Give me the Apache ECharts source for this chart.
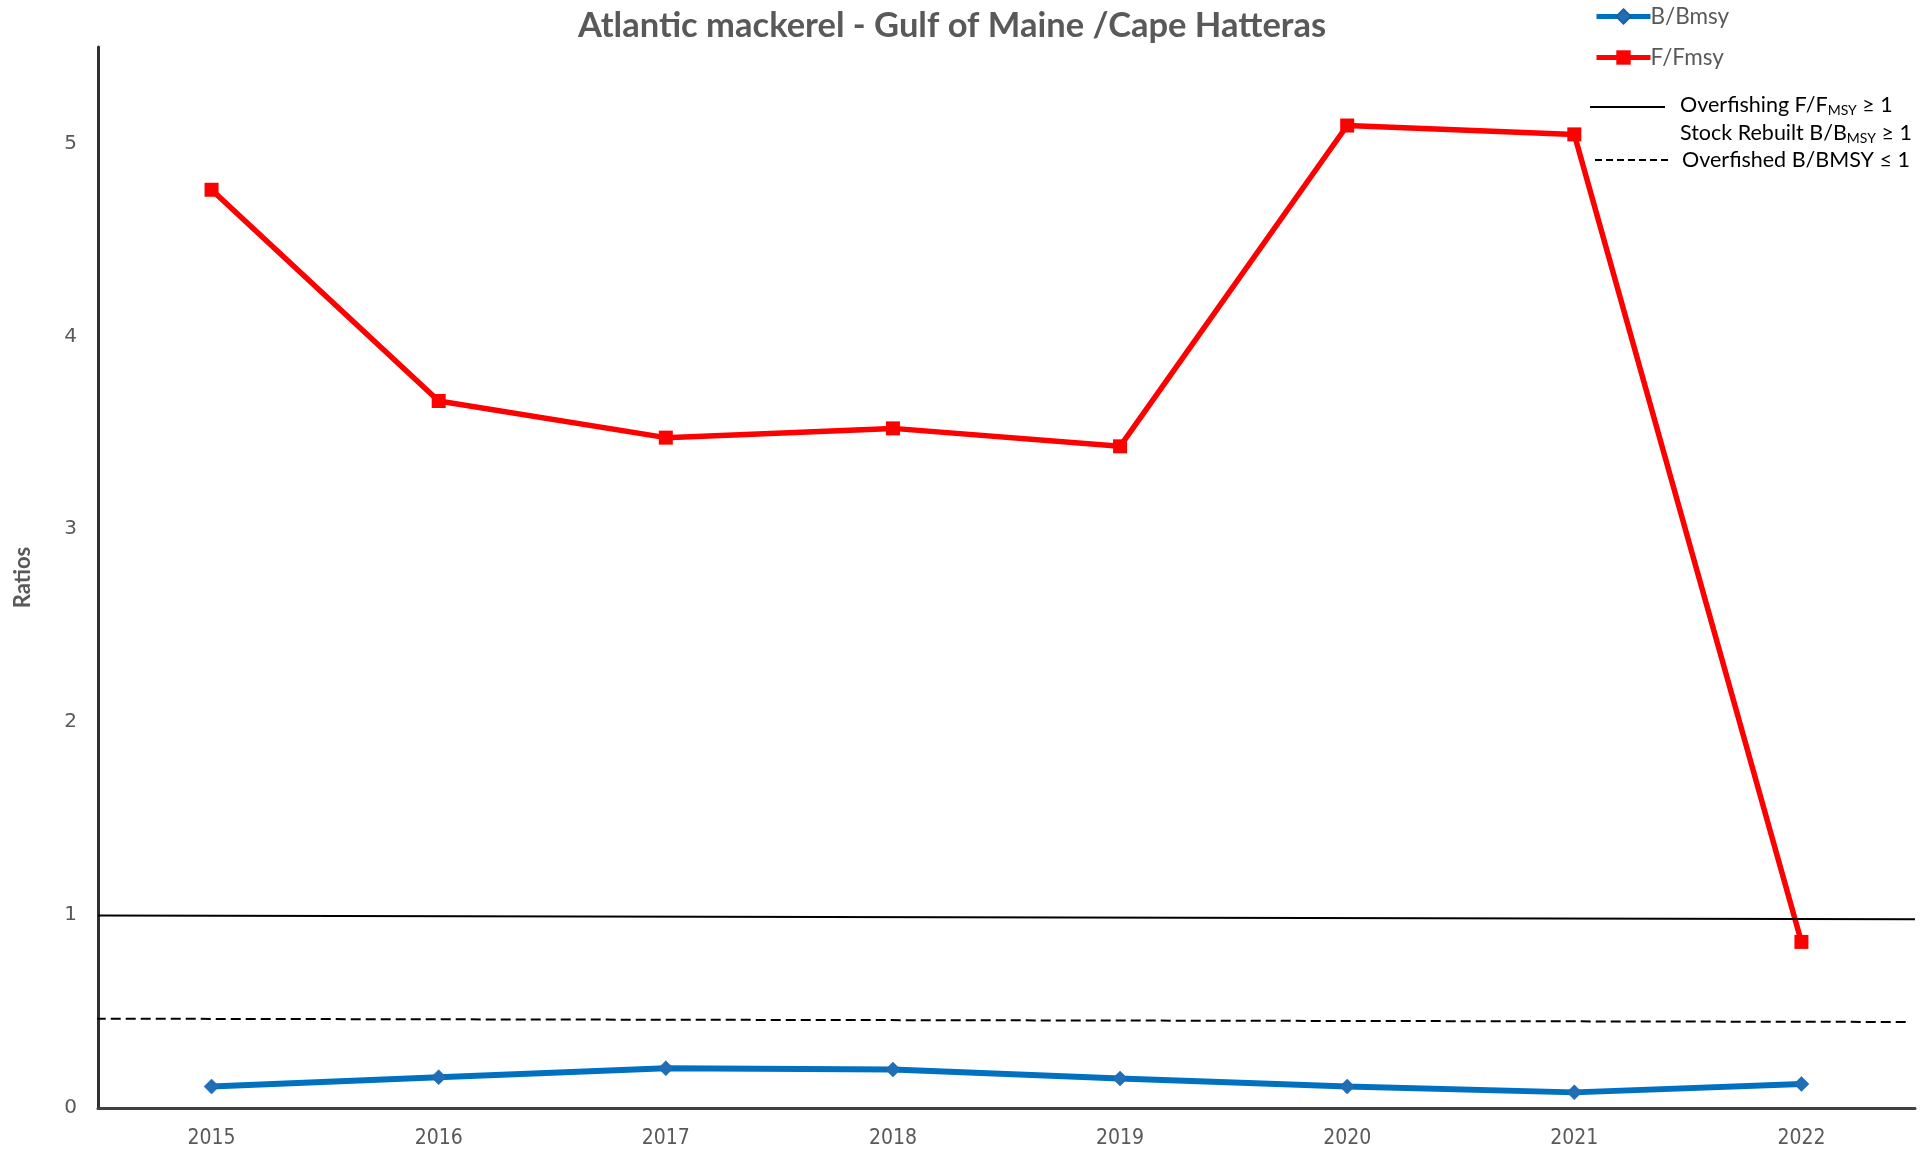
<!DOCTYPE html>
<html>
<head>
<meta charset="utf-8">
<script src="https://cdn.jsdelivr.net/npm/echarts@6/dist/echarts.min.js"></script>
<style>
html,body{margin:0;padding:0;background:#fff;}
#chart{width:1929px;height:1153px;}
</style>
</head>
<body>
<div id="chart"></div>
<script>
const years = ['2015','2016','2017','2018','2019','2020','2021','2022'];
const bBmsy = [0.111, 0.160, 0.206, 0.199, 0.153, 0.111, 0.081, 0.125];
const fFmsy = [4.760, 3.665, 3.475, 3.523, 3.430, 5.093, 5.047, 0.861];
const overfishingLine = [[-0.5, 0.998], [7.5, 0.979]];
const overfishedLine = [[-0.51, 0.463], [7.46, 0.446]];
const yTicks = [0, 1, 2, 3, 4, 5];

const chart = echarts.init(document.getElementById('chart'));
const FONT = 'Lato';
chart.setOption({
  animation: false,
  backgroundColor: '#ffffff',
  title: {
    text: 'Atlantic mackerel - Gulf of Maine /Cape Hatteras',
    left: 947, top: 3, textAlign: 'center',
    textStyle: {fontFamily: FONT, fontWeight: 'bold', fontSize: 34.5, color: '#595959'}
  },
  grid: {left: 98, right: 14, top: 47, bottom: 45, containLabel: false},
  legend: {
    data: [
      {name: 'B/Bmsy', lineStyle: {width: 5}},
      {name: 'F/Fmsy', lineStyle: {width: 5}}
    ],
    orient: 'vertical', left: 1589, top: 0,
    itemWidth: 54, itemHeight: 18, itemGap: 18,
    textStyle: {fontFamily: FONT, fontSize: 22.5, color: '#595959', padding: [0,0,0,-5]}
  },
  xAxis: [{
    type: 'category', data: years, boundaryGap: true,
    axisLine: {show: true, lineStyle: {color: '#404040', width: 3}},
    axisTick: {show: false},
    axisLabel: {fontFamily: 'DejaVu Sans Condensed', fontSize: 21, color: '#595959', margin: 20},
    splitLine: {show: false}
  }, {
    type: 'value', min: -0.5, max: 7.5, show: false
  }],
  yAxis: {
    type: 'value', min: 0, max: 5.5, interval: 1,
    name: 'Ratios', nameLocation: 'middle', nameGap: 64,
    nameTextStyle: {fontFamily: FONT, fontWeight: 'bold', fontSize: 22, color: '#595959'},
    axisLine: {show: true, onZero: false, lineStyle: {color: '#303030', width: 3}},
    axisTick: {show: false},
    splitLine: {show: false},
    axisLabel: {
      fontFamily: 'DejaVu Sans', fontSize: 20, color: '#595959', margin: 21,
      formatter: v => (yTicks.indexOf(v) >= 0 ? String(v) : '')
    }
  },
  series: [
    {
      name: 'B/Bmsy', type: 'line', data: bBmsy, xAxisIndex: 0,
      symbol: 'diamond', symbolSize: 15,
      lineStyle: {color: '#0070C0', width: 6},
      itemStyle: {color: '#1F6FB8', borderColor: '#1F5F9F', borderWidth: 0.5},
      z: 3
    },
    {
      name: 'F/Fmsy', type: 'line', data: fFmsy, xAxisIndex: 0,
      symbol: 'rect', symbolSize: 14,
      lineStyle: {color: '#FF0000', width: 5.5},
      itemStyle: {color: '#FF0000'},
      z: 3
    },
    {
      name: 'Overfishing', type: 'line', xAxisIndex: 1, data: overfishingLine,
      symbol: 'none', lineStyle: {color: '#000000', width: 2}, z: 4, silent: true
    },
    {
      name: 'Overfished', type: 'line', xAxisIndex: 1, data: overfishedLine,
      symbol: 'none', lineStyle: {color: '#000000', width: 2, type: [10, 5]}, z: 4, silent: true
    }
  ],
  graphic: [
    {type: 'line', shape: {x1: 1590, y1: 107, x2: 1665, y2: 107}, style: {stroke: '#000', lineWidth: 2}},
    {type: 'line', shape: {x1: 1595, y1: 160, x2: 1670, y2: 160}, style: {stroke: '#000', lineWidth: 2, lineDash: [7, 4]}},
    {type: 'text', left: 1680, top: 94, style: {
      text: 'Overfishing F/F{s|MSY} ≥ 1',
      font: '21.5px Lato', fill: '#000',
      rich: {s: {fontSize: 14, fontFamily: FONT, fill: '#000', padding: [10, 0, 0, 0]}}
    }},
    {type: 'text', left: 1680, top: 122, style: {
      text: 'Stock Rebuilt B/B{s|MSY} ≥ 1',
      font: '21.5px Lato', fill: '#000',
      rich: {s: {fontSize: 14, fontFamily: FONT, fill: '#000', padding: [10, 0, 0, 0]}}
    }},
    {type: 'text', left: 1682, top: 149, style: {
      text: 'Overfished B/BMSY ≤ 1',
      font: '21.5px Lato', fill: '#000'
    }}
  ]
});
</script>
</body>
</html>
